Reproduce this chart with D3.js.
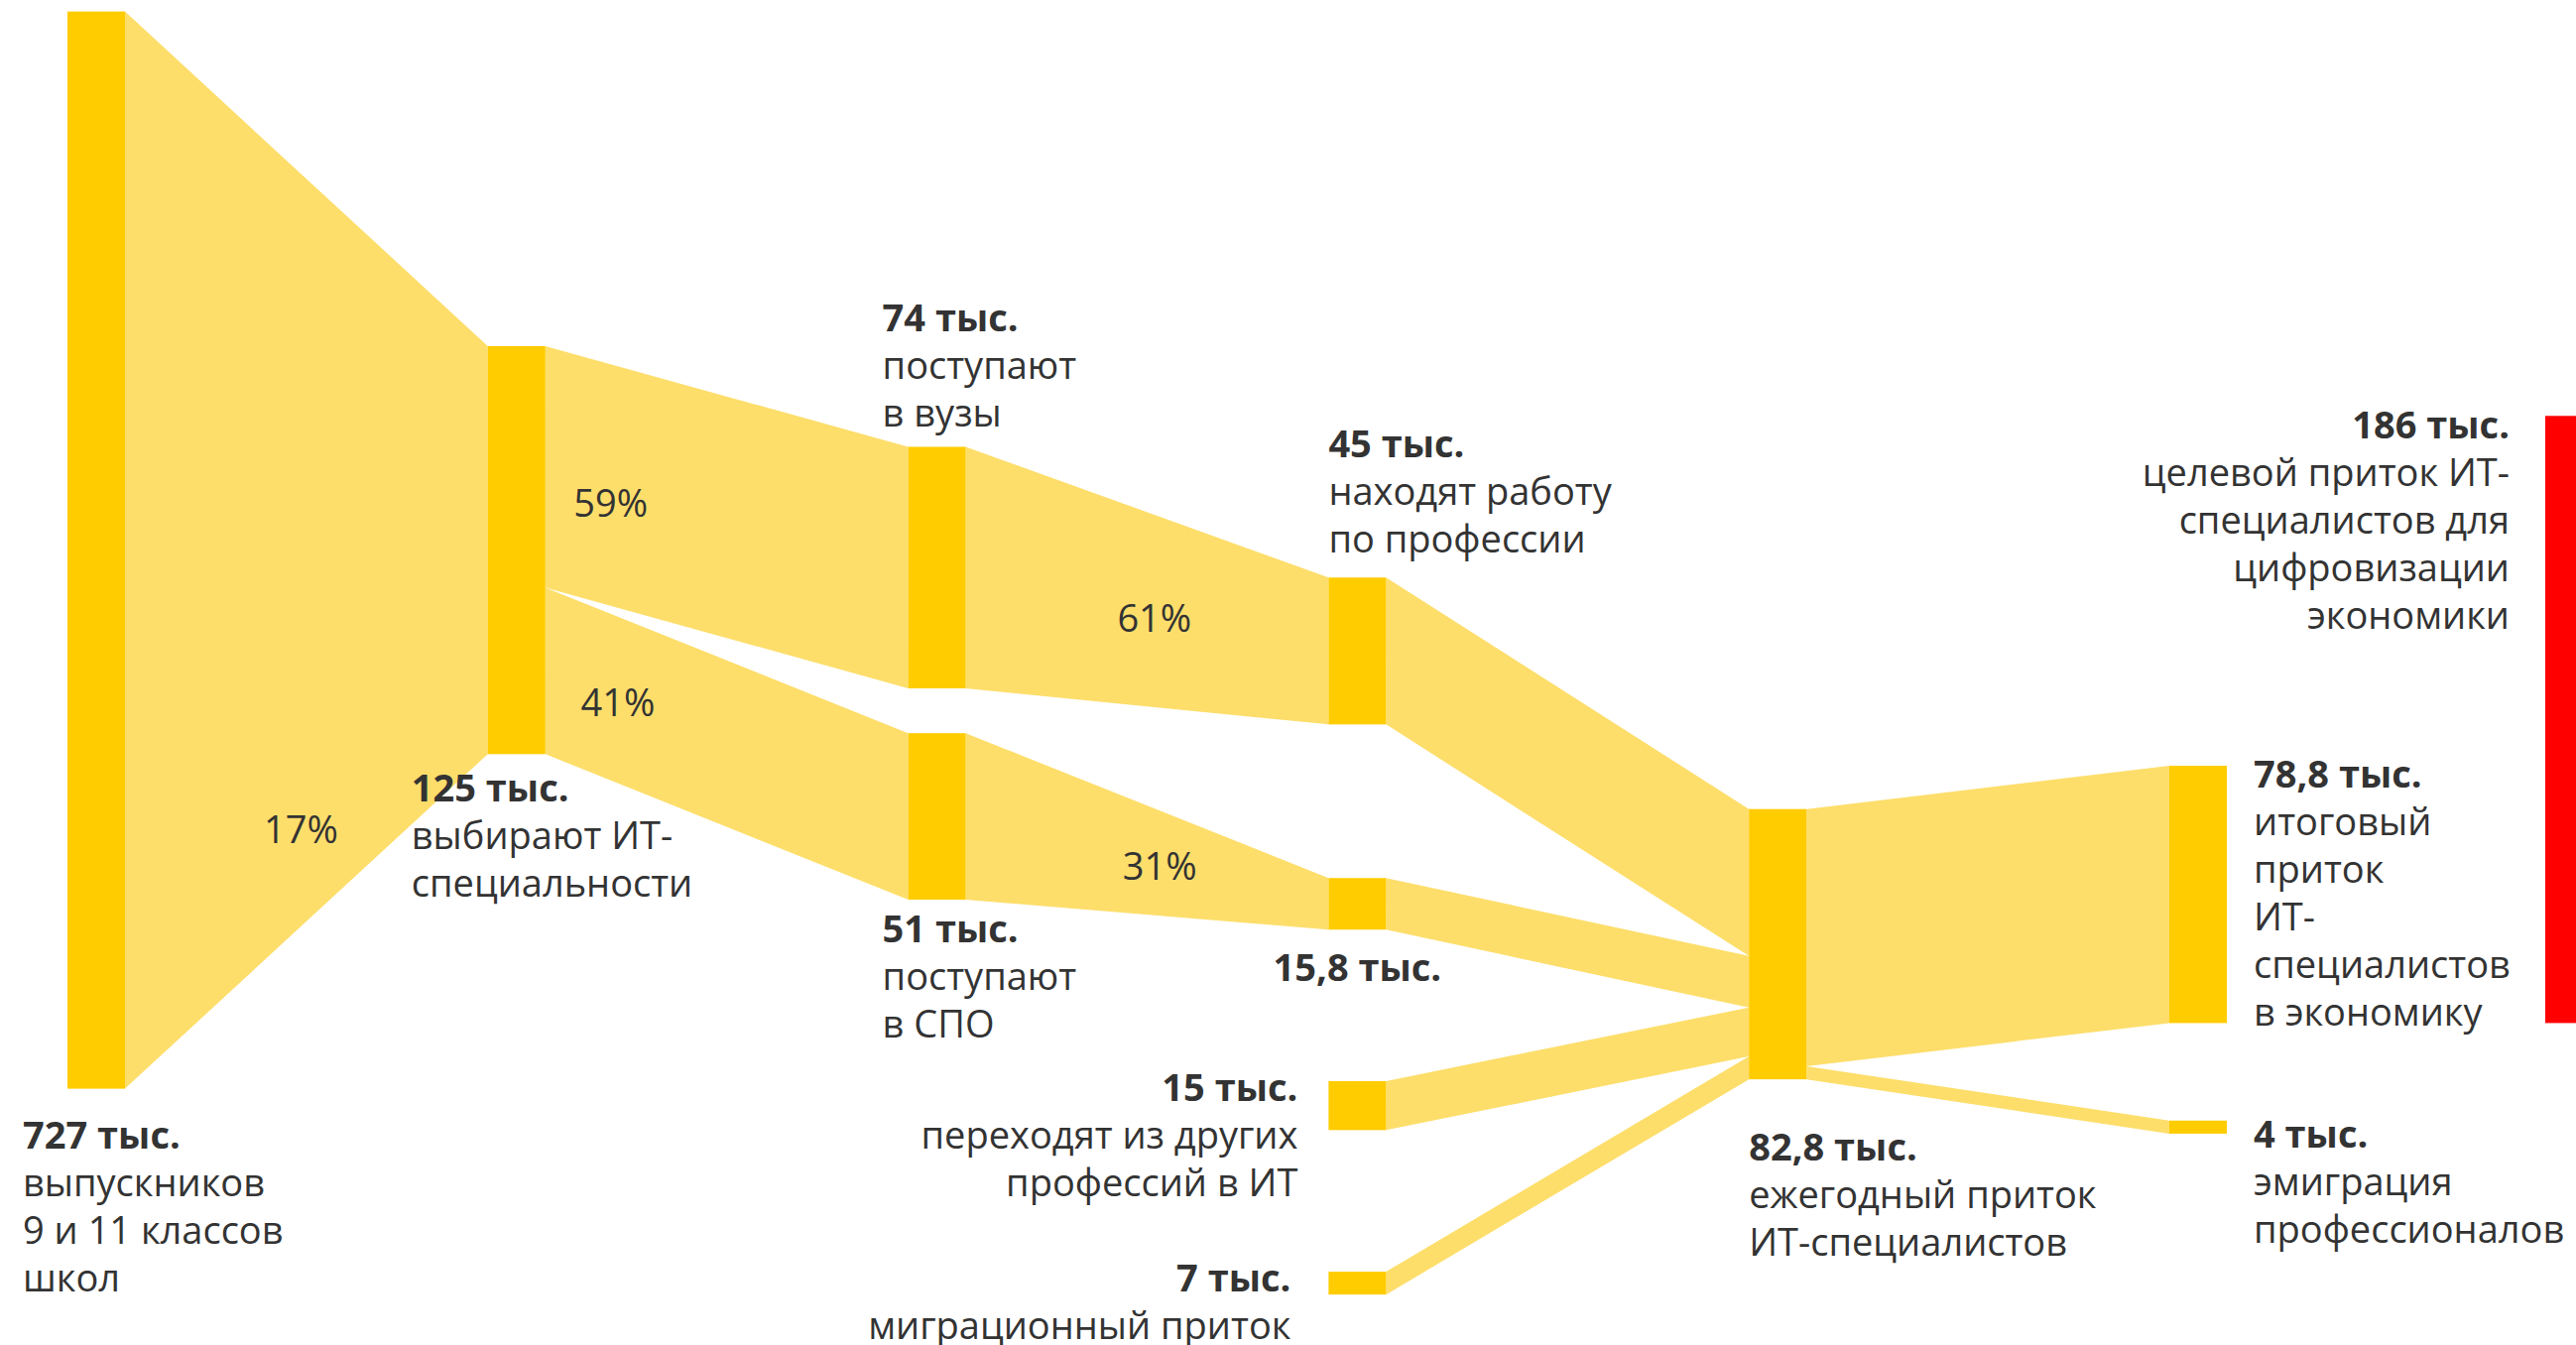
<!DOCTYPE html>
<html lang="ru">
<head>
<meta charset="utf-8">
<title>Приток ИТ-специалистов</title>
<script src="https://cdn.jsdelivr.net/npm/d3@7"></script>
<style>
  body { margin: 0; background: #fff; }
  svg { display: block; font-family: "Open Sans", "Noto Sans", sans-serif; }
</style>
</head>
<body>
<div id="chart"></div>
<script>
// Values, thousands of people
const nodeIds = ["grads", "itChoice", "uni", "spo", "uniJob", "spoJob", "switchers", "migrants", "inflow", "netInflow", "emigration"];
const nodeValues = [727, 125, 74, 51, 45, 15.8, 15, 7, 82.8, 78.8, 4];
const nodeCaptions = [
  ["выпускников", "9 и 11 классов", "школ"],
  ["выбирают ИТ-", "специальности"],
  ["поступают", "в вузы"],
  ["поступают", "в СПО"],
  ["находят работу", "по профессии"],
  [],
  ["переходят из других", "профессий в ИТ"],
  ["миграционный приток"],
  ["ежегодный приток", "ИТ-специалистов"],
  ["итоговый", "приток", "ИТ-", "специалистов", "в экономику"],
  ["эмиграция", "профессионалов"]
];

// Flows between nodes
const linkSources = ["grads", "itChoice", "itChoice", "uni", "spo", "uniJob", "spoJob", "switchers", "migrants", "inflow", "inflow"];
const linkTargets = ["itChoice", "uni", "spo", "uniJob", "spoJob", "inflow", "inflow", "inflow", "inflow", "netInflow", "emigration"];

// Target for comparison (red bar)
const targetValue = 186;
const targetCaption = ["целевой приток ИТ-", "специалистов для", "цифровизации", "экономики"];

// ---- layout ----
const width = 2597, height = 1356;
const nodeWidth = 58;
const lineHeight = 48;

// column of each node and its vertical centre in % of the picture height
const nodeColumn = [0, 1, 2, 2, 3, 3, 3, 3, 4, 5, 5];
const nodeCenter = [40.9, 40.9, 42.2, 60.7, 48.4, 67.2, 82.2, 95.4, 70.2, 66.5, 83.8];

// where each node's text goes relative to the node
const labelPlace = [
  { side: "below", anchor: "start", dx: -45, dy: 60 },
  { side: "below", anchor: "start", dx: -77, dy: 48 },
  { side: "above", anchor: "start", dx: -26, dy: -20 },
  { side: "below", anchor: "start", dx: -26, dy: 43 },
  { side: "above", anchor: "start", dx: 0, dy: -25 },
  { side: "below", anchor: "middle", dx: 0, dy: 52 },
  { side: "left", anchor: "end", dx: -31, dy: 20 },
  { side: "left", anchor: "end", dx: -38, dy: 20 },
  { side: "below", anchor: "start", dx: 0, dy: 82 },
  { side: "right", anchor: "start", dx: 27, dy: 22 },
  { side: "right", anchor: "start", dx: 27, dy: 27 }
];

// percentage labels: link index, position along the link, position across the band
const pctLinks = [0, 1, 2, 3, 4];
const pctAlong = [0.485, 0.18, 0.2, 0.52, 0.535];
const pctAcross = [0.87, 0.57, 0.51, 0.53, 0.52];

const nodeColor = "#FFCC00";
const linkColor = "#FDDE6B";
const textColor = "#333333";

const x = d3.scaleLinear().domain([0, 5]).range([68, 2187]);
const y = d3.scaleLinear().domain([0, 100]).range([0, height]);
// thickness per thousand people; the school leavers bar is clamped to fit
const h = d3.scaleLinear().domain([0, 330]).range([0, 1086]).clamp(true);

const fmt = v => String(v).replace(".", ",") + " тыс.";

const svg = d3.select("#chart")
  .append("svg")
  .attr("width", width)
  .attr("height", height);

// build nodes
const nodes = nodeIds.map((id, i) => {
  const hh = h(nodeValues[i]);
  const cy = y(nodeCenter[i]);
  return {
    id, i, value: nodeValues[i],
    x0: x(nodeColumn[i]), x1: x(nodeColumn[i]) + nodeWidth,
    y0: cy - hh / 2, y1: cy + hh / 2,
    outOff: 0, inOff: 0
  };
});
const byId = new Map(nodes.map(n => [n.id, n]));

const links = linkSources.map((s, i) => ({
  source: byId.get(s),
  target: byId.get(linkTargets[i])
}));

nodes.forEach(n => {
  n.outCount = links.filter(l => l.source === n).length;
  n.inCount = links.filter(l => l.target === n).length;
});

// band ends: full node when it is the only flow, otherwise stacked
links.forEach(l => {
  const v = Math.min(l.source.value, l.target.value);
  const w = h(v);
  const s = l.source, t = l.target;
  if (s.outCount === 1) { l.sy0 = s.y0; l.sy1 = s.y1; }
  else { l.sy0 = s.y0 + s.outOff; l.sy1 = l.sy0 + w; s.outOff += w; }
  if (t.inCount === 1) { l.ty0 = t.y0; l.ty1 = t.y1; }
  else { l.ty0 = t.y0 + t.inOff; l.ty1 = l.ty0 + w; t.inOff += w; }
  l.sx = s.x1;
  l.tx = t.x0;
});

const band = d3.line();

svg.append("g")
  .selectAll("path")
  .data(links)
  .enter()
  .append("path")
  .attr("d", l => band([[l.sx, l.sy0], [l.tx, l.ty0], [l.tx, l.ty1], [l.sx, l.sy1]]) + "Z")
  .attr("fill", linkColor);

svg.append("g")
  .selectAll("rect")
  .data(nodes)
  .enter()
  .append("rect")
  .attr("x", d => d.x0)
  .attr("y", d => d.y0)
  .attr("width", nodeWidth)
  .attr("height", d => d.y1 - d.y0)
  .attr("fill", nodeColor);

// percentage labels
pctLinks.forEach((li, k) => {
  const l = links[li];
  const t = pctAlong[k];
  const px = l.sx + (l.tx - l.sx) * t;
  const top = l.sy0 + (l.ty0 - l.sy0) * t;
  const bot = l.sy1 + (l.ty1 - l.sy1) * t;
  const py = top + (bot - top) * pctAcross[k];
  svg.append("text")
    .attr("x", px)
    .attr("y", py)
    .attr("text-anchor", "middle")
    .attr("dominant-baseline", "central")
    .style("font-size", "38px")
    .style("fill", textColor)
    .text(Math.round(l.target.value / l.source.value * 100) + "%");
});

// node labels
function drawLabel(x0, firstBaseline, anchor, bold, lines) {
  const g = svg.append("text")
    .attr("text-anchor", anchor)
    .style("font-size", "38px")
    .style("fill", textColor);
  g.append("tspan")
    .attr("x", x0)
    .attr("y", firstBaseline)
    .style("font-weight", "bold")
    .text(bold);
  lines.forEach((line, j) => {
    g.append("tspan")
      .attr("x", x0)
      .attr("y", firstBaseline + (j + 1) * lineHeight)
      .text(line);
  });
}

nodes.forEach((n, i) => {
  const p = labelPlace[i];
  const lines = nodeCaptions[i];
  let lx, ly;
  if (p.side === "below") {
    lx = (p.anchor === "middle" ? (n.x0 + n.x1) / 2 : n.x0) + p.dx;
    ly = n.y1 + p.dy;
  } else if (p.side === "above") {
    lx = n.x0 + p.dx;
    ly = n.y0 + p.dy - lines.length * lineHeight;
  } else if (p.side === "left") {
    lx = n.x0 + p.dx;
    ly = n.y0 + p.dy;
  } else {
    lx = n.x1 + p.dx;
    ly = n.y0 + p.dy;
  }
  drawLabel(lx, ly, p.anchor, fmt(n.value), lines);
});

// target bar, bottom aligned with the net inflow bar
const net = byId.get("netInflow");
const barX = x(5) + 379;
const barH = h(targetValue);
svg.append("rect")
  .attr("x", barX)
  .attr("y", net.y1 - barH)
  .attr("width", nodeWidth)
  .attr("height", barH)
  .attr("fill", "#FF0000");

drawLabel(barX - 36, net.y1 - barH + 23, "end", fmt(targetValue), targetCaption);
</script>
</body>
</html>
